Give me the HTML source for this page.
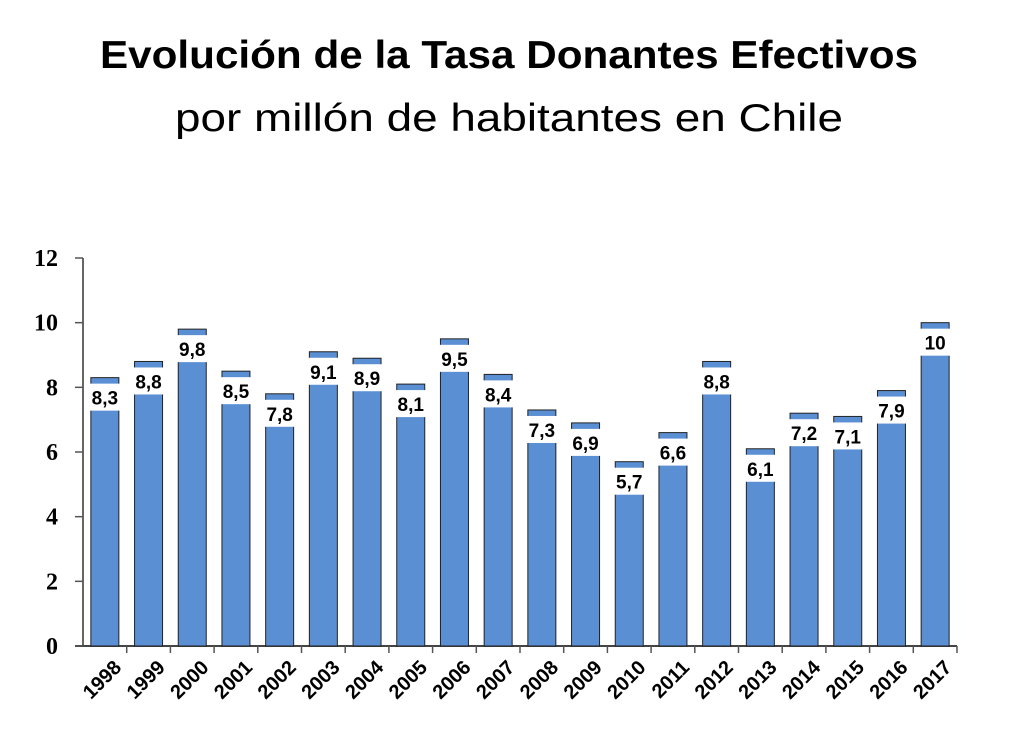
<!DOCTYPE html>
<html><head><meta charset="utf-8"><style>
body{margin:0;background:#fff;}
svg{display:block;}
</style></head><body>
<svg width="1024" height="740" viewBox="0 0 1024 740" xmlns="http://www.w3.org/2000/svg">
<text x="509" y="68" text-anchor="middle" font-family="Liberation Sans, sans-serif" font-weight="bold" font-size="39" textLength="818" lengthAdjust="spacingAndGlyphs">Evolución de la Tasa Donantes Efectivos</text>
<text x="509" y="131" text-anchor="middle" font-family="Liberation Sans, sans-serif" font-size="39" textLength="668" lengthAdjust="spacingAndGlyphs">por millón de habitantes en Chile</text>
<g id="plot"></g>
</svg>
<script>
const years=["1998","1999","2000","2001","2002","2003","2004","2005","2006","2007","2008","2009","2010","2011","2012","2013","2014","2015","2016","2017"];
const values=[8.3,8.8,9.8,8.5,7.8,9.1,8.9,8.1,9.5,8.4,7.3,6.9,5.7,6.6,8.8,6.1,7.2,7.1,7.9,10];
const valueLabels=["8,3","8,8","9,8","8,5","7,8","9,1","8,9","8,1","9,5","8,4","7,3","6,9","5,7","6,6","8,8","6,1","7,2","7,1","7,9","10"];
const yTicks=[0,2,4,6,8,10,12];

const NS="http://www.w3.org/2000/svg";
const g=document.getElementById('plot');
const x0=83,x1=957,yBase=646,yTop=258,yMax=12;
const step=(x1-x0)/years.length;
const y=v=>yBase-(v/yMax)*(yBase-yTop);
const xc=i=>x0+step*(i+0.5);
function mk(t,a){const e=document.createElementNS(NS,t);for(const k in a)e.setAttribute(k,a[k]);g.appendChild(e);return e;}

let ax=mk('line',{x1:x0,y1:yTop,x2:x0,y2:yBase,stroke:'#666','stroke-width':2});


let bx=mk('line',{x1:x0-8,y1:yBase,x2:x1,y2:yBase,stroke:'#444','stroke-width':2});



yTicks.forEach(v=>{
  const t=mk('line',{x1:x0-8,y1:y(v),x2:x0,y2:y(v),stroke:'#555','stroke-width':1.5});
  
  
  const l=mk('text',{x:58,y:y(v)+8,'text-anchor':'end','font-family':'Liberation Serif, serif','font-weight':'bold','font-size':24});
  
  
  l.textContent=v;
});

years.forEach((yr,i)=>{
  const tk=mk('line',{x1:x0+step*(i+1),y1:yBase,x2:x0+step*(i+1),y2:yBase+7,stroke:'#555','stroke-width':1.5});
  
  
  const bw=28, bxl=xc(i)-bw/2, top=y(values[i]);
  const r=mk('rect',{x:bxl,y:top,width:bw,height:yBase-top,fill:'#5a8fd4',stroke:'#222','stroke-width':1});
  
  
  const box=mk('rect',{x:bxl-1,y:top+6,width:bw+2,height:27,fill:'#fff'});
  
  
  const vl=mk('text',{x:xc(i),y:top+27,'text-anchor':'middle','font-family':'Liberation Sans, sans-serif','font-weight':'bold','font-size':19});
  
  
  vl.textContent=valueLabels[i];
  const lx=xc(i)+7, ly=yBase+12;
  const xl=mk('text',{x:lx,y:ly,'text-anchor':'end','font-family':'Liberation Sans, sans-serif','font-weight':'bold','font-size':20,transform:`rotate(-45 ${lx} ${ly})`,dy:'0.75em'});
  
  
  xl.textContent=yr;
});
</script>
</body></html>
